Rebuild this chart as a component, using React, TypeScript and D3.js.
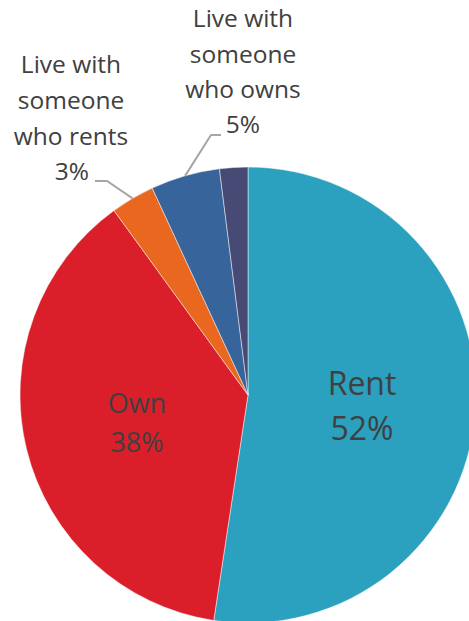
import * as d3 from "d3";

// Slice values, in drawing order (clockwise from 12 o'clock)
const categories = ["Rent", "Own", "Live with someone who rents", "Live with someone who owns", "Other"];
const values = [52.4, 37.6, 3.1, 4.9, 2.0];
const percentLabels = ["52%", "38%", "3%", "5%", ""];
const colors = ["#2BA1BF", "#DA1F2A", "#E9671F", "#37649B", "#474A74"];

const WIDTH = 469;
const HEIGHT = 621;
const CX = 248;
const CY = 395;
const RADIUS = 228;
const TEXT = "#404040";
const FONT = "'Open Sans', sans-serif";

type Slice = d3.PieArcDatum<number>;

export default function App() {
  const pie = d3.pie<number>().sort(null).value((d) => d);
  const arcs: Slice[] = pie(values);
  const arcGen = d3.arc<Slice>().innerRadius(0).outerRadius(RADIUS);

  // point on the outer edge at the middle of a slice
  const edgePoint = (a: Slice) => {
    const mid = (a.startAngle + a.endAngle) / 2;
    return [RADIUS * Math.sin(mid), -RADIUS * Math.cos(mid)];
  };

  const rentsEdge = edgePoint(arcs[2]);
  const ownsEdge = edgePoint(arcs[3]);

  return (
    <div style={{ position: "fixed", left: 0, top: 0 }}>
      <svg width={WIDTH} height={HEIGHT} style={{ display: "block" }}>
        <rect width={WIDTH} height={HEIGHT} fill="#fff" />
        <g transform={`translate(${CX},${CY})`}>
          {arcs.map((a, i) => (
            <path key={i} d={arcGen(a) || ""} fill={colors[i]} stroke="#fff" strokeWidth={0.8} strokeOpacity={0.6} />
          ))}
          {/* leader lines */}
          <polyline
            points={`${rentsEdge[0]},${rentsEdge[1]} ${107 - CX},${181 - CY} ${95 - CX},${181 - CY}`}
            fill="none"
            stroke="#A6A6A6"
            strokeWidth={2}
          />
          <polyline
            points={`${ownsEdge[0]},${ownsEdge[1]} ${211 - CX},${135 - CY} ${221 - CX},${135 - CY}`}
            fill="none"
            stroke="#A6A6A6"
            strokeWidth={2}
          />
        </g>

        <g fontFamily={FONT} fill={TEXT} textAnchor="middle">
          <text x={362} y={395} fontSize={32}>{categories[0]}</text>
          <text x={362} y={440} fontSize={32}>{percentLabels[0]}</text>
          <text x={137} y={413} fontSize={27}>{categories[1]}</text>
          <text x={137} y={452} fontSize={27}>{percentLabels[1]}</text>

          <g fontSize={24.5}>
            <text x={71} y={73}>Live with</text>
            <text x={71} y={109}>someone</text>
            <text x={71} y={145}>who rents</text>
            <text x={72} y={180}>{percentLabels[2]}</text>

            <text x={243} y={27}>Live with</text>
            <text x={243} y={63}>someone</text>
            <text x={243} y={98}>who owns</text>
            <text x={243} y={133}>{percentLabels[3]}</text>
          </g>
        </g>
      </svg>
    </div>
  );
}
